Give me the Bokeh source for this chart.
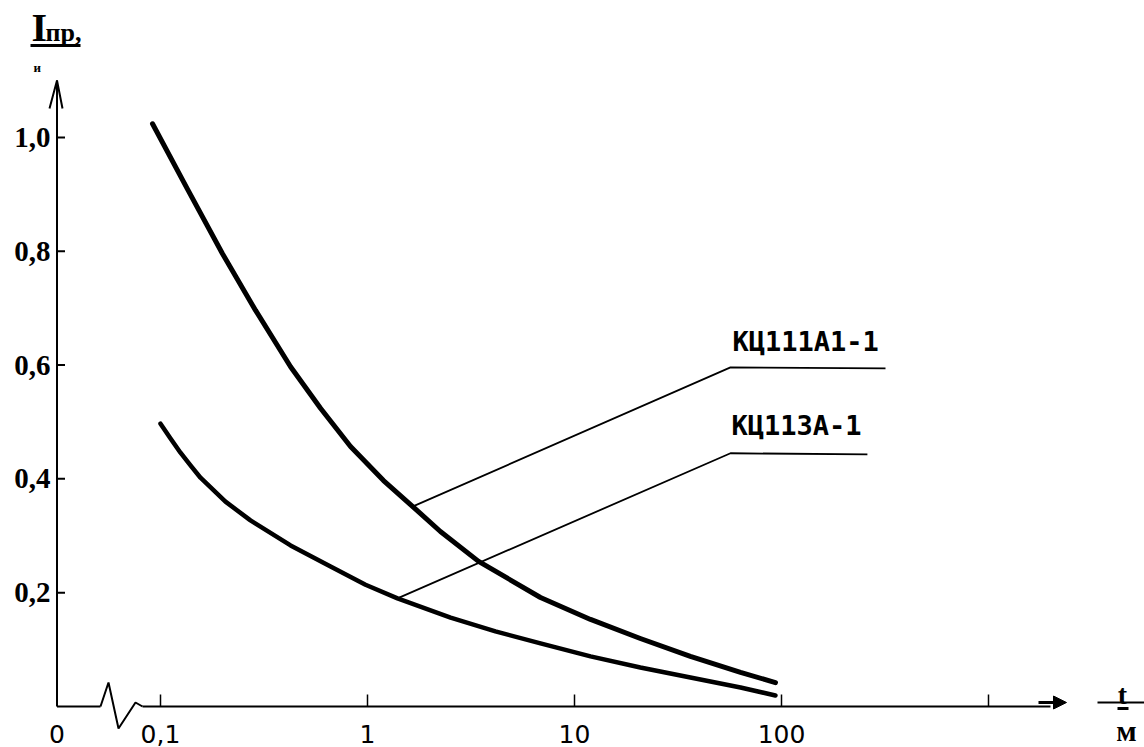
from bokeh.plotting import figure
from bokeh.models import Range1d, Arrow, NormalHead
from bokeh.core.properties import value
from bokeh.embed import file_html
from bokeh.resources import INLINE

# ---- data ----
t_kc111 = [0.0915, 0.135, 0.199, 0.288, 0.425, 0.593, 0.828, 1.195, 1.67, 2.25, 3.44, 6.85, 11.95, 20.8, 36.3, 63.4, 93.5]
i_kc111 = [1.024, 0.909, 0.796, 0.696, 0.597, 0.524, 0.457, 0.397, 0.350, 0.3075, 0.255, 0.1915, 0.153, 0.1195, 0.088, 0.060, 0.042]

t_kc113 = [0.100, 0.1118, 0.1249, 0.1396, 0.156, 0.206, 0.272, 0.425, 0.663, 0.978, 1.396, 2.52, 4.15, 6.85, 11.95, 20.8, 36.3, 63.4, 93.5]
i_kc113 = [0.497, 0.471, 0.446, 0.4235, 0.402, 0.360, 0.327, 0.283, 0.246, 0.214, 0.190, 0.156, 0.132, 0.111, 0.088, 0.0685, 0.051, 0.0334, 0.0193]

# leader lines from each curve to its label
lead111_t = [1.67, 56.7, 318.0]
lead111_i = [0.352, 0.596, 0.594]
lead113_t = [1.396, 56.7, 260.0]
lead113_i = [0.190, 0.445, 0.443]

series_names = ["КЦ111А1-1", "КЦ113А-1"]

x_origin = 10 ** -1.5          # broken-axis origin, labelled "0"
x_tick_values = [x_origin, 0.1, 1.0, 10.0, 100.0, 1000.0]
x_tick_labels = ["0", "0,1", "1", "10", "100", ""]
y_tick_values = [0.2, 0.4, 0.6, 0.8, 1.0]
y_tick_labels = ["0,2", "0,4", "0,6", "0,8", "1,0"]

# ---- layout helpers: reference pixel -> data (used for decorations/annotations only) ----
W, H = 1144, 747
PX_DECADE = 207.0
PX_UNIT = 569.1
def tx(px):
    return 0.1 * 10 ** ((px - 160.0) / PX_DECADE)
def iy(py):
    return (706.0 - py) / PX_UNIT
def dx(t, px):          # shift a data x by px pixels
    return t * 10 ** (px / PX_DECADE)

p = figure(width=W, height=H, x_axis_type="log",
           x_range=Range1d(tx(0), tx(W)), y_range=Range1d(iy(H), iy(0)),
           x_axis_location=None, y_axis_location=None,
           output_backend="svg", toolbar_location=None, title=None, min_border=0)
p.outline_line_color = None
p.grid.visible = False
p.background_fill_color = "white"
p.border_fill_color = "white"

BLACK = "black"

# ---- axes (lines, ticks, labels) ----
p.line([x_origin, x_origin], [0, iy(80)], line_width=2, line_color=BLACK)            # y axis
p.line([tx(49), x_origin, tx(62)], [iy(108), iy(80), iy(108)], line_width=2, line_color=BLACK)  # y arrow
p.line([x_origin, tx(100)], [0, 0], line_width=2, line_color=BLACK)                  # x axis, before break
p.line([tx(100), tx(108), tx(118), tx(135), tx(142)],
       [0, iy(682), iy(728), iy(702), 0], line_width=2, line_color=BLACK)            # break symbol
p.line([tx(142), tx(1050)], [0, 0], line_width=2, line_color=BLACK)                  # x axis
p.add_layout(Arrow(end=NormalHead(size=13, fill_color=BLACK, line_color=BLACK),
                   x_start=tx(1038), y_start=iy(702), x_end=tx(1066), y_end=iy(702),
                   line_width=3, line_color=BLACK))

xt = x_tick_values[1:]
p.segment(x0=xt, y0=[0] * len(xt), x1=xt, y1=[12 / PX_UNIT] * len(xt),
          line_width=1.5, line_color=BLACK)
p.segment(x0=[x_origin] * len(y_tick_values), y0=y_tick_values,
          x1=[dx(x_origin, 8)] * len(y_tick_values), y1=y_tick_values,
          line_width=2, line_color=BLACK)

p.text(x=x_tick_values, y=[iy(733)] * len(x_tick_values), text=x_tick_labels,
       text_font=value("DejaVu Sans"), text_font_size="25px", text_color=BLACK,
       text_align="center", text_baseline="middle")
p.text(x=[tx(50)] * len(y_tick_values), y=y_tick_values, text=y_tick_labels,
       text_font=value("Liberation Serif"), text_font_style="bold", text_font_size="29px",
       text_color=BLACK, text_align="right", text_baseline="middle")

# ---- curves ----
p.line(t_kc111, i_kc111, line_width=5, line_color=BLACK, line_cap="round", line_join="round")
p.line(t_kc113, i_kc113, line_width=4.5, line_color=BLACK, line_cap="round", line_join="round")
p.line(lead111_t, lead111_i, line_width=1.8, line_color=BLACK)
p.line(lead113_t, lead113_i, line_width=1.8, line_color=BLACK)

p.text(x=[tx(732), tx(731)], y=[iy(341), iy(425)], text=series_names,
       text_font=value("DejaVu Sans Mono"), text_font_style="bold", text_font_size="27px",
       text_color=BLACK, text_align="left", text_baseline="middle")

# ---- axis titles ----
p.text(x=[tx(31)], y=[iy(27)], text=["I"], text_font=value("Liberation Serif"),
       text_font_style="bold", text_font_size="40px", text_color=BLACK, text_baseline="middle")
p.text(x=[tx(45)], y=[iy(32)], text=["пр,"], text_font=value("Liberation Serif"),
       text_font_style="bold", text_font_size="26px", text_color=BLACK, text_baseline="middle")
p.line([tx(30), tx(80)], [iy(45), iy(45)], line_width=3, line_color=BLACK)
p.text(x=[tx(33)], y=[iy(67)], text=["и"], text_font=value("Liberation Serif"),
       text_font_style="bold", text_font_size="13px", text_color=BLACK, text_baseline="middle")

p.text(x=[tx(1122)], y=[iy(694)], text=["t"], text_font=value("Liberation Serif"),
       text_font_style="bold", text_font_size="28px", text_color=BLACK,
       text_align="center", text_baseline="middle")
p.line([tx(1097), tx(1144)], [iy(702), iy(702)], line_width=2, line_color=BLACK)
p.line([tx(1117), tx(1128)], [iy(708), iy(708)], line_width=3, line_color=BLACK)
p.text(x=[tx(1126)], y=[iy(730)], text=["м"], text_font=value("Liberation Serif"),
       text_font_style="bold", text_font_size="30px", text_color=BLACK,
       text_align="center", text_baseline="middle")

open("out.html", "w").write(file_html(p, INLINE))
